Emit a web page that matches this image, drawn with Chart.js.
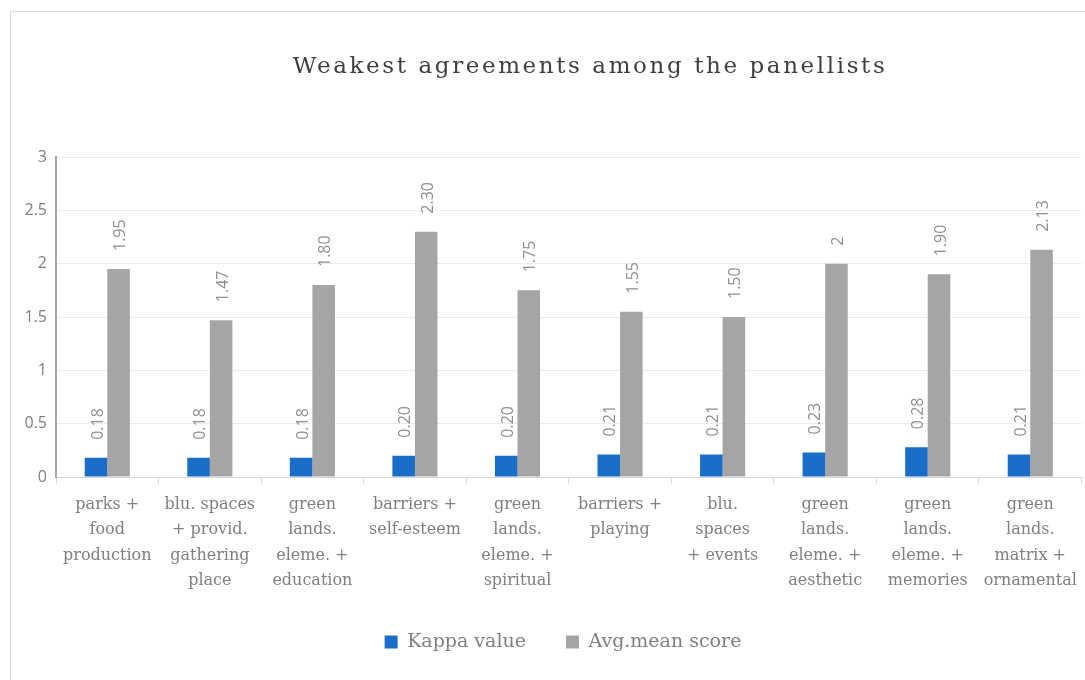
<!DOCTYPE html>
<html>
<head>
<meta charset="utf-8">
<script src="https://cdn.jsdelivr.net/npm/chart.js@4/dist/chart.umd.min.js"></script>
<style>
  html, body { margin: 0; padding: 0; background: #ffffff; }
  #wrap { position: absolute; left: 0; top: 0; width: 1085px; height: 680px; }
</style>
</head>
<body>
<div id="wrap"><canvas id="c" width="1085" height="680"></canvas></div>
<script>
const chartTitle = 'Weakest agreements among the panellists';
const categories = [
  ['parks +', 'food', 'production'],
  ['blu. spaces', '+ provid.', 'gathering', 'place'],
  ['green', 'lands.', 'eleme. +', 'education'],
  ['barriers +', 'self-esteem'],
  ['green', 'lands.', 'eleme. +', 'spiritual'],
  ['barriers +', 'playing'],
  ['blu.', 'spaces', '+ events'],
  ['green', 'lands.', 'eleme. +', 'aesthetic'],
  ['green', 'lands.', 'eleme. +', 'memories'],
  ['green', 'lands.', 'matrix +', 'ornamental']
];
const seriesNames = ['Kappa value', 'Avg.mean score'];
const kappaValues = [0.18, 0.18, 0.18, 0.20, 0.20, 0.21, 0.21, 0.23, 0.28, 0.21];
const avgMeanScores = [1.95, 1.47, 1.80, 2.30, 1.75, 1.55, 1.50, 2, 1.90, 2.13];
const yMin = 0, yMax = 3, yStep = 0.5;

const frame = {
  id: 'frame',
  beforeDraw(chart) {
    const ctx = chart.ctx;
    ctx.save();
    ctx.strokeStyle = '#d9d9d9';
    ctx.lineWidth = 1;
    ctx.strokeRect(10.5, 11.5, 1200, 800);
    ctx.restore();
  }
};

const shiftBoxes = {
  id: 'shiftBoxes',
  afterLayout(chart) {
    const lg = chart.legend, tb = chart.titleBlock;
    if (lg) { lg.left += 17; lg.right += 17; }
    if (tb) {
      tb.left += 44; tb.right += 44;
      if (!tb.__ls) {
        const d = tb.draw.bind(tb);
        tb.draw = function (a) {
          const c = chart.ctx; const p = c.letterSpacing;
          c.letterSpacing = '2.6px'; d(a); c.letterSpacing = p;
        };
        tb.__ls = true;
      }
    }
  }
};

const valueLabels = {
  id: 'valueLabels',
  afterDatasetsDraw(chart) {
    const ctx = chart.ctx;
    ctx.save();
    ctx.font = '16px "Open Sans"';
    ctx.fillStyle = '#8f8f8f';
    ctx.textAlign = 'left';
    ctx.textBaseline = 'middle';
    chart.data.datasets.forEach((ds, di) => {
      const meta = chart.getDatasetMeta(di);
      meta.data.forEach((bar, i) => {
        const v = ds.data[i];
        const txt = Number.isInteger(v) ? String(v) : v.toFixed(2);
        ctx.save();
        ctx.translate(bar.x, bar.y - 18);
        ctx.rotate(-Math.PI / 2);
        ctx.fillText(txt, 0, 2);
        ctx.restore();
      });
    });
    ctx.restore();
  }
};

new Chart(document.getElementById('c'), {
  type: 'bar',
  data: {
    labels: categories,
    datasets: [
      { label: seriesNames[0], data: kappaValues, backgroundColor: '#1b6ec8', borderWidth: 0 },
      { label: seriesNames[1], data: avgMeanScores, backgroundColor: '#a5a5a5', borderWidth: 0 }
    ]
  },
  options: {
    responsive: false,
    animation: false,
    layout: { padding: { top: 12, left: 10, right: 3, bottom: 18.5 } },
    datasets: { bar: { categoryPercentage: 0.44, barPercentage: 1.0 } },
    scales: {
      x: {
        offset: true,
        grid: { offset: true, drawOnChartArea: false, drawTicks: true, tickLength: 7, color: '#d9d9d9' },
        border: { display: true, color: '#d9d9d9', width: 1 },
        ticks: {
          color: '#7f7f7f', autoSkip: false, maxRotation: 0, minRotation: 0, padding: 8,
          font: { family: 'DejaVu Serif', size: 16, lineHeight: '25.5px' }
        },
        afterFit(s) { s.height = 115.5; }
      },
      y: {
        min: yMin, max: yMax,
        ticks: {
          stepSize: yStep, color: '#7f7f7f', padding: 9, font: { family: 'Open Sans', size: 16 },
          callback: (v) => String(v)
        },
        grid: { color: '#ebebeb', drawTicks: false, lineWidth: 1 },
        border: { display: true, color: '#a6a6a6', width: 2 },
        afterFit(s) { s.width = 46; }
      }
    },
    plugins: {
      title: {
        display: true, text: chartTitle, color: '#404040',
        font: { family: 'DejaVu Serif', size: 23, weight: 'normal' },
        padding: { top: 41.2, bottom: 76.2 }
      },
      legend: {
        position: 'bottom',
        labels: {
          boxWidth: 13, boxHeight: 13, padding: 40, color: '#7f7f7f',
          font: { family: 'DejaVu Serif', size: 19 }
        }
      },
      tooltip: { enabled: false }
    }
  },
  plugins: [frame, shiftBoxes, valueLabels]
});
</script>
</body>
</html>
